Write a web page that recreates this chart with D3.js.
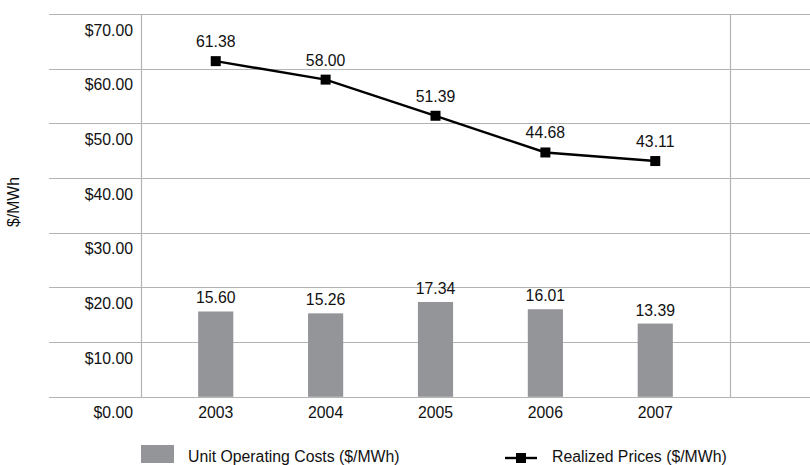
<!DOCTYPE html>
<html><head><meta charset="utf-8">
<script src="https://cdn.jsdelivr.net/npm/d3@7"></script>
<style>body{margin:0;background:#fff}svg{display:block;font-family:"Liberation Sans",Arial,sans-serif}</style>
</head><body><svg id="c" width="810" height="465"></svg>
<script>
const years = ["2003","2004","2005","2006","2007"];
const unitCosts = [15.60, 15.26, 17.34, 16.01, 13.39];
const realizedPrices = [61.38, 58.00, 51.39, 44.68, 43.11];
const yTicks = [0,10,20,30,40,50,60,70];
const seriesNames = ["Unit Operating Costs ($/MWh)", "Realized Prices ($/MWh)"];

const svg = d3.select("#c");
const y = d3.scaleLinear().domain([0,70]).range([396.8,14]);
const x = d3.scaleBand().domain(years).range([160.8,710.2]).paddingInner(0.68).paddingOuter(0.34);
const cx = d => x(d)+x.bandwidth()/2;
const grid = "#b3b3b3";
const fs = 15.8;

// horizontal gridlines
svg.append("g").selectAll("line").data(yTicks).join("line")
  .attr("x1",49).attr("x2",810).attr("y1",d=>Math.round(y(d))+0.5).attr("y2",d=>Math.round(y(d))+0.5)
  .attr("stroke",grid).attr("stroke-width",1.2);
// vertical lines
svg.append("g").selectAll("line").data([141,730]).join("line")
  .attr("x1",d=>d+0.5).attr("x2",d=>d+0.5).attr("y1",14).attr("y2",397)
  .attr("stroke",grid).attr("stroke-width",1.2);

// y labels
svg.append("g").selectAll("text").data(yTicks).join("text")
  .attr("x",133).attr("y",d=>y(d)+21.5).attr("text-anchor","end")
  .attr("font-size",fs).attr("fill","#111").text(d=>"$"+d3.format(".2f")(d));

// x labels
svg.append("g").selectAll("text").data(years).join("text")
  .attr("x",d=>cx(d)).attr("y",417.5).attr("text-anchor","middle")
  .attr("font-size",fs).attr("fill","#111").text(d=>d);

// y title
svg.append("text").attr("transform","translate(19,202) rotate(-90)").attr("text-anchor","middle")
  .attr("font-size",fs).attr("fill","#111").text("$/MWh");

// bars
svg.append("g").selectAll("rect").data(years).join("rect")
  .attr("x",d=>x(d)).attr("width",x.bandwidth())
  .attr("y",(d,i)=>y(unitCosts[i])).attr("height",(d,i)=>y(0)-y(unitCosts[i]))
  .attr("fill","#939598");
svg.append("g").selectAll("text").data(years).join("text")
  .attr("x",d=>cx(d)).attr("y",(d,i)=>y(unitCosts[i])-8).attr("text-anchor","middle")
  .attr("font-size",fs).attr("fill","#111").text((d,i)=>unitCosts[i].toFixed(2));

// line
const line = d3.line().x((d,i)=>cx(years[i])).y(d=>y(d));
svg.append("path").datum(realizedPrices).attr("d",line).attr("fill","none")
  .attr("stroke","#000").attr("stroke-width",2.4);
svg.append("g").selectAll("rect").data(realizedPrices).join("rect")
  .attr("x",(d,i)=>cx(years[i])-5).attr("y",d=>y(d)-5).attr("width",10).attr("height",10).attr("fill","#000");
svg.append("g").selectAll("text").data(realizedPrices).join("text")
  .attr("x",(d,i)=>cx(years[i])).attr("y",d=>y(d)-14).attr("text-anchor","middle")
  .attr("font-size",fs).attr("fill","#111").text(d=>d.toFixed(2));

// legend
const lg = svg.append("g");
lg.append("rect").attr("x",141).attr("y",445).attr("width",33).attr("height",18).attr("fill","#939598");
lg.append("text").attr("x",188).attr("y",462).attr("font-size",fs).attr("fill","#111").text(seriesNames[0]);
lg.append("line").attr("x1",505).attr("x2",537).attr("y1",458).attr("y2",458).attr("stroke","#000").attr("stroke-width",2.4);
lg.append("rect").attr("x",516).attr("y",453).attr("width",10).attr("height",10).attr("fill","#000");
lg.append("text").attr("x",552).attr("y",462).attr("font-size",fs).attr("fill","#111").text(seriesNames[1]);
</script></body></html>
